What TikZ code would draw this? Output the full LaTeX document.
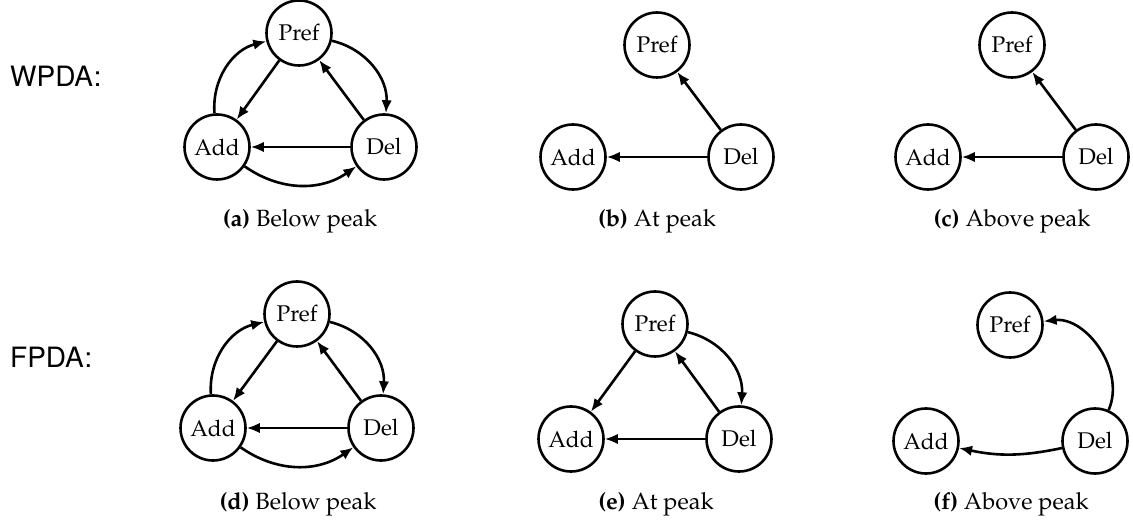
\documentclass[tikz,border=0pt]{standalone}
\usepackage[T1]{fontenc}
\usepackage{mathpazo}
\usetikzlibrary{arrows.meta}
\begin{document}
\begin{tikzpicture}[x=1pt,y=1pt,
  st/.style={circle,draw,line width=2.6pt,minimum size=65pt,inner sep=0pt,font=\fontsize{22.7}{26}\selectfont},
  ar/.style={-{Latex[length=13pt,width=10.5pt]},line width=2.6pt},
  captxt/.style={font=\fontsize{23.5}{27}\selectfont},
  lab/.style={font=\fontfamily{phv}\fontsize{28}{32}\selectfont,anchor=west,inner sep=0pt}]
\useasboundingbox (0,0) rectangle (1133,525);
% row labels
\node[lab] (wl) at (10,448) {WPDA:};
\node[lab] (fl) at (10,167) {FPDA:};
% (a)
\node[st] (pa) at (299,492) {Pref};
\node[st] (aa) at (217,378) {Add};
\node[st] (da) at (384,378) {Del};
\draw[ar] (pa) -- (aa);
\draw[ar] (da) -- (pa);
\draw[ar] (da) -- (aa);
\draw[ar] (aa) to[bend left=40] (pa);
\draw[ar] (pa) to[bend left=40] (da);
\draw[ar] (aa) to[bend right=35] (da);
\node[captxt] (ca) at (300,304) {\textbf{(a)} Below peak};
% (b)
\node[st] (pb) at (657,480) {Pref};
\node[st] (ab) at (573,368) {Add};
\node[st] (db) at (741,368) {Del};
\draw[ar] (db) -- (pb);
\draw[ar] (db) -- (ab);
\node[captxt] (cb) at (657,304) {\textbf{(b)} At peak};
% (c)
\node[st] (pc) at (1012,480) {Pref};
\node[st] (ac) at (928,368) {Add};
\node[st] (dc) at (1096,368) {Del};
\draw[ar] (dc) -- (pc);
\draw[ar] (dc) -- (ac);
\node[captxt] (cc) at (1012,304) {\textbf{(c)} Above peak};
% (d)
\node[st] (pd) at (297,211) {Pref};
\node[st] (ad) at (213,97) {Add};
\node[st] (dd) at (381,97) {Del};
\draw[ar] (pd) -- (ad);
\draw[ar] (dd) -- (pd);
\draw[ar] (dd) -- (ad);
\draw[ar] (ad) to[bend left=40] (pd);
\draw[ar] (pd) to[bend left=40] (dd);
\draw[ar] (ad) to[bend right=35] (dd);
\node[captxt] (cd) at (298,21) {\textbf{(d)} Below peak};
% (e)
\node[st] (pe) at (655,201) {Pref};
\node[st] (ae) at (571,86) {Add};
\node[st] (de) at (739,86) {Del};
\draw[ar] (pe) -- (ae);
\draw[ar] (de) -- (pe);
\draw[ar] (de) -- (ae);
\draw[ar] (pe) to[bend left=40] (de);
\node[captxt] (ce) at (656,21) {\textbf{(e)} At peak};
% (f)
\node[st] (pf) at (1010,200) {Pref};
\node[st] (af) at (926,84) {Add};
\node[st] (df) at (1095,84) {Del};
\draw[ar] (df) to[bend right=60] (pf);
\draw[ar] (df) to[bend left=12] (af);
\node[captxt] (cf) at (1011,21) {\textbf{(f)} Above peak};
\end{tikzpicture}
\end{document}
